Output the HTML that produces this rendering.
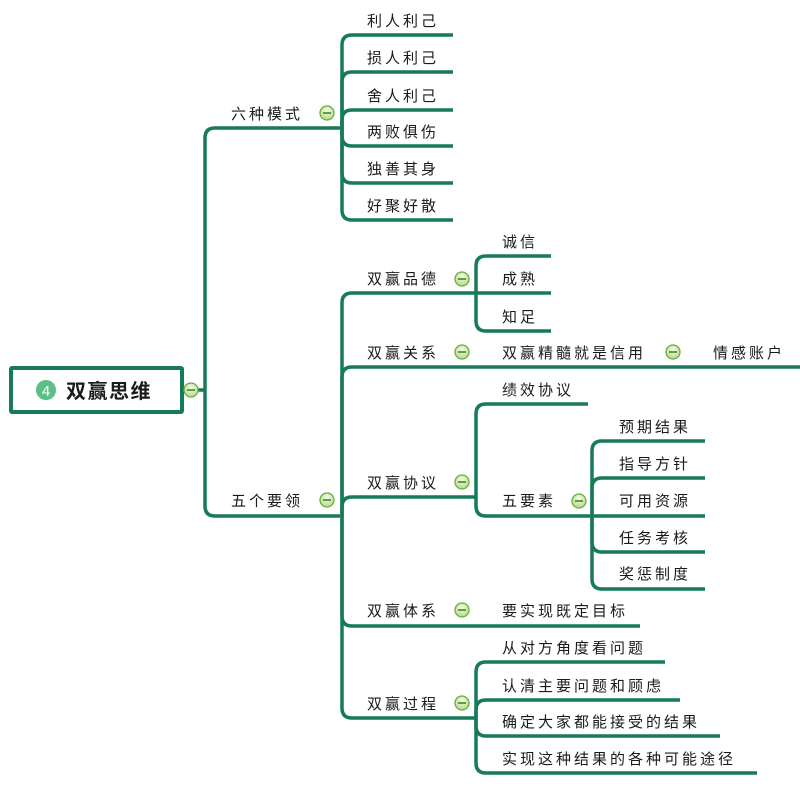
<!DOCTYPE html>
<html><head><meta charset="utf-8"><style>
html,body{margin:0;padding:0;background:#fff;width:800px;height:788px;overflow:hidden}
svg text{font-family:"Liberation Sans","Noto Sans CJK SC",sans-serif;font-size:15px;fill:#1a1a1a;letter-spacing:3px}
</style></head><body>
<svg width="800" height="788" viewBox="0 0 800 788" xmlns="http://www.w3.org/2000/svg">
<defs>
<radialGradient id="g" cx="50%" cy="35%" r="60%"><stop offset="0" stop-color="#f4fbe8"/><stop offset="1" stop-color="#b9dc93"/></radialGradient>
<g id="m"><circle r="7" fill="url(#g)" stroke="#6aae38" stroke-width="1.3"/><line x1="-4" y1="0" x2="4" y2="0" stroke="#3d7a22" stroke-width="1.5"/></g>
</defs>
<g fill="none" stroke="#177a5b" stroke-width="3.5" stroke-linecap="butt">
<path d="M184 390 H205"/>
<path d="M205 390 V138 Q205 128 215 128 H340"/>
<path d="M205 390 V506 Q205 516 215 516 H340"/>
<path d="M342 128 V45 Q342 35 352 35 H453"/>
<path d="M342 128 V82 Q342 72 352 72 H453"/>
<path d="M342 128 V120 Q342 110 352 110 H453"/>
<path d="M342 128 V136 Q342 146 352 146 H453"/>
<path d="M342 128 V173 Q342 183 352 183 H453"/>
<path d="M342 128 V210 Q342 220 352 220 H453"/>
<path d="M342 516 V303 Q342 293 352 293 H476"/>
<path d="M342 516 V377 Q342 367 352 367 H800"/>
<path d="M342 516 V507 Q342 497 352 497 H476"/>
<path d="M342 516 V616 Q342 626 352 626 H640"/>
<path d="M342 516 V708 Q342 718 352 718 H476"/>
<path d="M476 293 V266 Q476 256 486 256 H551"/>
<path d="M476 293 H551"/>
<path d="M476 293 V321 Q476 331 486 331 H551"/>
<path d="M476 497 V414 Q476 404 486 404 H588"/>
<path d="M476 497 V506 Q476 516 486 516 H592"/>
<path d="M592 516 V451 Q592 441 602 441 H705"/>
<path d="M592 516 V488 Q592 478 602 478 H705"/>
<path d="M592 516 H705"/>
<path d="M592 516 V542 Q592 552 602 552 H705"/>
<path d="M592 516 V579 Q592 589 602 589 H705"/>
<path d="M476 718 V672 Q476 662 486 662 H665"/>
<path d="M476 718 V710 Q476 700 486 700 H680"/>
<path d="M476 718 V726 Q476 736 486 736 H720"/>
<path d="M476 718 V763 Q476 773 486 773 H757"/>
</g>
<rect x="11" y="368" width="171" height="44" fill="#fff" stroke="#177a5b" stroke-width="4" rx="1"/>
<circle cx="46" cy="390" r="10" fill="#5cbf85"/>
<text x="46" y="396" text-anchor="middle" style="fill:#fff;font-size:15px;letter-spacing:0">4</text>
<text x="66" y="398" style="font-size:20px;font-weight:bold;letter-spacing:1.5px">双赢思维</text>
<text x="231" y="119">六种模式</text>
<text x="231" y="506">五个要领</text>
<text x="367" y="26">利人利己</text>
<text x="367" y="63">损人利己</text>
<text x="367" y="101">舍人利己</text>
<text x="367" y="137">两败俱伤</text>
<text x="367" y="174">独善其身</text>
<text x="367" y="211">好聚好散</text>
<text x="367" y="284">双赢品德</text>
<text x="367" y="358">双赢关系</text>
<text x="367" y="488">双赢协议</text>
<text x="367" y="616">双赢体系</text>
<text x="367" y="709">双赢过程</text>
<text x="502" y="247">诚信</text>
<text x="502" y="284">成熟</text>
<text x="502" y="322">知足</text>
<text x="502" y="358">双赢精髓就是信用</text>
<text x="713" y="358">情感账户</text>
<text x="502" y="395">绩效协议</text>
<text x="502" y="506">五要素</text>
<text x="619" y="432">预期结果</text>
<text x="619" y="469">指导方针</text>
<text x="619" y="506">可用资源</text>
<text x="619" y="543">任务考核</text>
<text x="619" y="579">奖惩制度</text>
<text x="502" y="616">要实现既定目标</text>
<text x="502" y="653">从对方角度看问题</text>
<text x="502" y="691">认清主要问题和顾虑</text>
<text x="502" y="727">确定大家都能接受的结果</text>
<text x="502" y="764">实现这种结果的各种可能途径</text>
<use href="#m" x="191" y="390"/>
<use href="#m" x="327" y="113"/>
<use href="#m" x="327" y="500"/>
<use href="#m" x="462" y="279"/>
<use href="#m" x="462" y="352"/>
<use href="#m" x="462" y="482"/>
<use href="#m" x="462" y="610"/>
<use href="#m" x="462" y="703"/>
<use href="#m" x="579" y="501"/>
<use href="#m" x="673" y="352"/>
</svg>
</body></html>
